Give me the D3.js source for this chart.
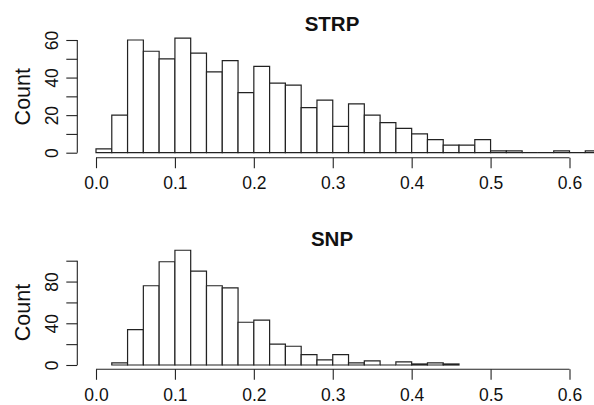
<!DOCTYPE html>
<html>
<head>
<meta charset="utf-8">
<script src="https://cdn.jsdelivr.net/npm/d3@7"></script>
<style>
  html, body { margin: 0; padding: 0; background: #fff; }
  svg { display: block; font-family: "Liberation Sans", Arial, Helvetica, sans-serif; }
</style>
</head>
<body>
<svg id="chart" width="594" height="405"></svg>
<script>
// ---- Data ----
const binWidth = 0.02;
const strpStart = 0.0;
const strpCounts = [2, 20, 60, 54, 50, 61, 53, 43, 49, 32, 46, 37, 36, 24, 28, 14,
                    26, 20, 16, 13, 10, 7, 4, 4, 7, 1, 1, 0, 0, 1, 0, 1];
const snpStart = 0.02;
const snpCounts = [2, 34, 76, 99, 110, 90, 76, 74, 41, 43, 20, 18, 10, 5, 10, 2, 4, 0, 3, 1, 2, 1];

const xTicks = [0.0, 0.1, 0.2, 0.3, 0.4, 0.5, 0.6];
const strpYTicks = [0, 10, 20, 30, 40, 50, 60];
const strpYLabels = [0, 20, 40, 60];
const snpYTicks = [0, 20, 40, 60, 80, 100];
const snpYLabels = [0, 40, 80];

const svg = d3.select("#chart");
const ink = "#222";

function panel(cfg) {
  const x = d3.scaleLinear().domain([0, 0.6]).range([96, 569.5]);
  const y = d3.scaleLinear().domain(cfg.yDomain).range(cfg.yRange);
  const g = svg.append("g");

  const bins = cfg.counts.map((c, i) => ({
    x0: +(cfg.start + i * binWidth).toFixed(4),
    x1: +(cfg.start + (i + 1) * binWidth).toFixed(4),
    c
  }));

  g.selectAll("path.bar").data(bins).enter().append("path")
    .attr("class", "bar")
    .attr("d", d => `M${x(d.x0)},${y(0)}V${y(d.c)}H${x(d.x1)}V${y(0)}Z`)
    .attr("fill", "#fff")
    .attr("stroke", ink)
    .attr("stroke-width", 1.2);

  // x axis (R style, below plot)
  const xa = g.append("g").attr("transform", `translate(0,${cfg.xAxisY})`)
    .call(d3.axisBottom(x).tickValues(xTicks).tickFormat(d3.format(".1f")).tickSize(10.5).tickSizeOuter(0));
  xa.select(".domain").attr("d", `M${x(0)},0H${x(0.6)}`).attr("stroke", ink).attr("stroke-width", 1.1);
  xa.selectAll(".tick line").attr("stroke", ink).attr("stroke-width", 1.1);
  xa.selectAll(".tick text").attr("font-size", 17.5).attr("fill", "#111")
    .attr("y", 0).attr("dy", 0).attr("transform", "translate(0,31.3)");

  // y axis
  const ya = g.append("g").attr("transform", "translate(77.3,0)")
    .call(d3.axisLeft(y).tickValues(cfg.yTicks)
      .tickFormat(d => cfg.yLabels.includes(d) ? d : "").tickSize(11).tickSizeOuter(0));
  ya.select(".domain").attr("d", `M0,${y(cfg.yTicks[0])}V${y(cfg.yTicks[cfg.yTicks.length - 1])}`)
    .attr("stroke", ink).attr("stroke-width", 1.1);
  ya.selectAll(".tick line").attr("stroke", ink).attr("stroke-width", 1.1);
  ya.selectAll(".tick text").attr("font-size", 17.5).attr("fill", "#111")
    .attr("x", null).attr("dy", null)
    .attr("text-anchor", "middle")
    .attr("transform", "translate(-19,0) rotate(-90)");

  // y label
  g.append("text")
    .attr("transform", `translate(30,${cfg.labelY}) rotate(-90)`)
    .attr("text-anchor", "middle")
    .attr("font-size", 21.5)
    .attr("fill", "#111")
    .text("Count");

  // title
  g.append("text")
    .attr("x", 332).attr("y", cfg.titleY)
    .attr("text-anchor", "middle")
    .attr("font-size", 20.5)
    .attr("font-weight", "bold")
    .attr("fill", "#111")
    .text(cfg.title);
}

panel({
  title: "STRP", titleY: 31, counts: strpCounts, start: strpStart,
  yDomain: [0, 60], yRange: [152.7, 40], yTicks: strpYTicks, yLabels: strpYLabels,
  xAxisY: 157.7, labelY: 96.7
});
panel({
  title: "SNP", titleY: 245.7, counts: snpCounts, start: snpStart,
  yDomain: [0, 100], yRange: [365, 260.7], yTicks: snpYTicks, yLabels: snpYLabels,
  xAxisY: 369.3, labelY: 312.5
});
</script>
</body>
</html>
